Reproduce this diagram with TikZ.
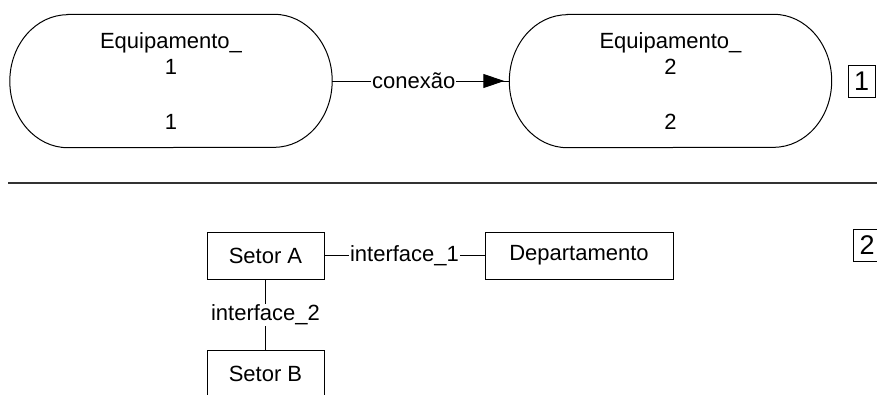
\documentclass[tikz,border=0pt]{standalone}
\usepackage{fontspec}
\setmainfont{Liberation Sans}
\usepackage{tikz}
\usetikzlibrary{arrows.meta, positioning, calc, decorations.markings}
\tikzset{
  eqnode/.style={rectangle, minimum width=322pt, minimum height=133pt, inner sep=0pt},
  eqline/.style={line width=1pt, color=black},
  boxnode/.style={rectangle, draw, line width=1pt, minimum width=117pt,
    minimum height=47pt, inner sep=2pt},
  numnode/.style={rectangle, draw, line width=1pt, minimum width=27pt,
    minimum height=32pt, inner sep=1pt, font=\fontsize{27}{30}\selectfont},
  lbl/.style={fill=white, inner sep=1pt},
  link/.style={line width=1pt, color=black},
  sepline/.style={line width=2pt, color=black!80}
}

\begin{document}
\begin{tikzpicture}[x=1pt, y=1pt,
  font=\fontsize{22}{26}\selectfont,
  headarr/.style={postaction={decorate}, decoration={markings,
    mark=at position -5pt with {\arrow{Triangle[length=21pt,width=14pt]}}}}
]
\useasboundingbox (0,0) rectangle (877,-394);

% part 1
\node[eqnode] (eq1) at (171,-81) {};
\node[eqnode] (eq2) at (670.5,-81) {};
\draw[eqline] ([xshift=58pt]eq1.north west) -- ([xshift=-58pt]eq1.north east)
  arc[start angle=90, end angle=-90, x radius=58, y radius=66.5]
  -- ([xshift=58pt]eq1.south west)
  arc[start angle=270, end angle=90, x radius=58, y radius=66.5] -- cycle;
\draw[eqline] ([xshift=58pt]eq2.north west) -- ([xshift=-58pt]eq2.north east)
  arc[start angle=90, end angle=-90, x radius=58, y radius=66.5]
  -- ([xshift=58pt]eq2.south west)
  arc[start angle=270, end angle=90, x radius=58, y radius=66.5] -- cycle;

\node (eq1name) at ([yshift=38pt]eq1.center) {Equipamento\_};
\node (eq1id) at ([yshift=14pt]eq1.center) {1};
\node (eq1val) at ([yshift=-41pt]eq1.center) {1};
\node (eq2name) at ([yshift=38pt]eq2.center) {Equipamento\_};
\node (eq2id) at ([yshift=14pt]eq2.center) {2};
\node (eq2val) at ([yshift=-41pt]eq2.center) {2};

\draw[link, headarr] (eq1.east) -- node[lbl, pos=0.46] {conexão} (eq2.west);

\node[numnode] (num1) at (861.5,-81) {1};

\coordinate (sepL) at (8,-183);
\coordinate (sepR) at (877,-183);
\draw[sepline] (sepL) -- (sepR);

% part 2
\node[boxnode] (setA) at (265.5,-255.5) {Setor A};
\node[boxnode, minimum width=188pt] (dept) at (579,-255.5) {Departamento};
\node[boxnode] (setB) at (265.5,-374) {Setor B};

\draw[link] (setA) -- node[lbl] {interface\_1} (dept);
\draw[link] (setA) -- node[lbl] {interface\_2} (setB);

\node[numnode] (num2) at (867,-245) {2};
\end{tikzpicture}
\end{document}
